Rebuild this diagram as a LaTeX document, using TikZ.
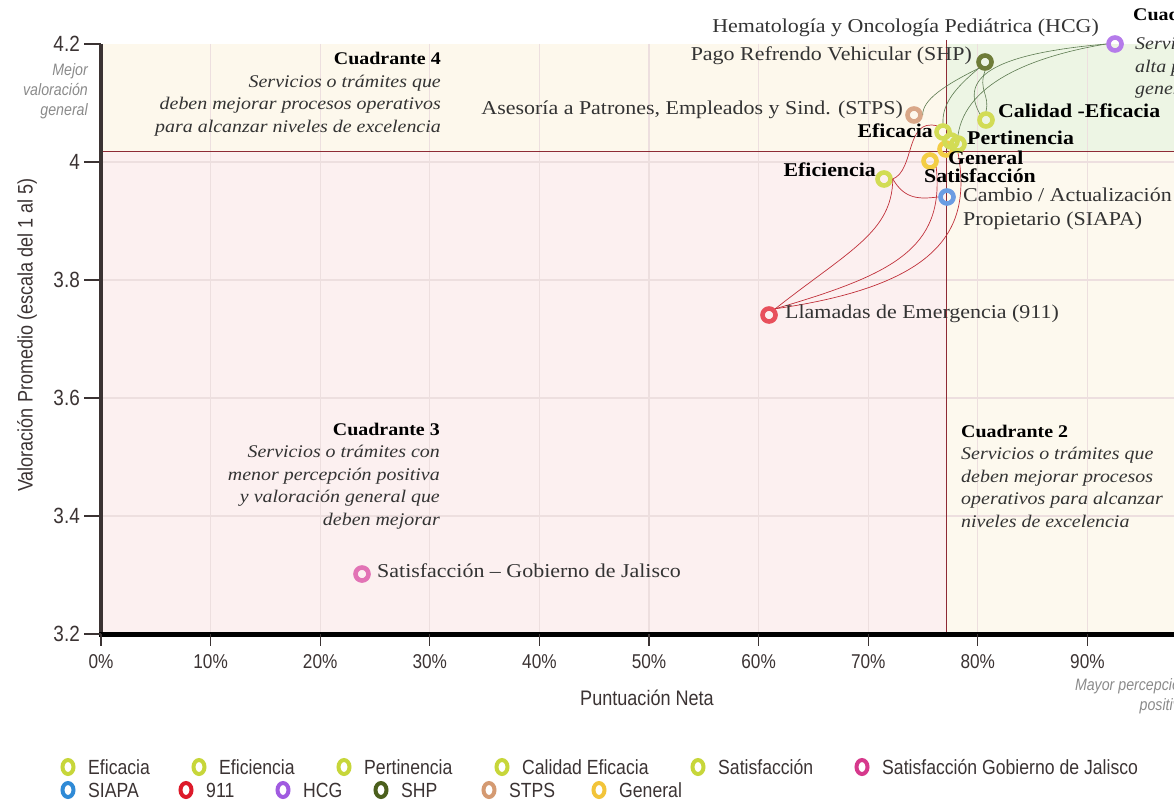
\documentclass[tikz,border=0pt]{standalone}
\usepackage{fontspec}
\usetikzlibrary{positioning}
\usepackage{xcolor}
\newfontfamily\labfont[FakeStretch=1.12]{Liberation Serif}
\newfontfamily\axfont[FakeStretch=0.86]{Liberation Sans}

\definecolor{bgfour}{HTML}{FDF8EC}
\definecolor{bgone}{HTML}{EDF5E4}
\definecolor{bgthree}{HTML}{FCF0F0}
\definecolor{bgtwo}{HTML}{FDF9EE}
\definecolor{gridc}{HTML}{EDDFDF}
\definecolor{quadc}{HTML}{8E2A35}
\definecolor{axisc}{HTML}{3B3333}
\definecolor{labc}{HTML}{333333}
\definecolor{hintc}{HTML}{8A8A8A}
\definecolor{linkred}{HTML}{C0303A}
\definecolor{linkgreen}{HTML}{5C7A50}
% rings on the chart
\definecolor{cYg}{HTML}{D2DC55}
\definecolor{cGold}{HTML}{F3CD45}
\definecolor{cSiapa}{HTML}{6A9CE2}
\definecolor{cRed}{HTML}{E8505C}
\definecolor{cHcg}{HTML}{B57BEA}
\definecolor{cShp}{HTML}{6E7C38}
\definecolor{cStps}{HTML}{D9A788}
\definecolor{cPink}{HTML}{E273B5}
% rings in the legend
\definecolor{lYg}{HTML}{C7D63A}
\definecolor{lPink}{HTML}{D6398C}
\definecolor{lBlue}{HTML}{2F8AD6}
\definecolor{lRed}{HTML}{DD1A2A}
\definecolor{lPurple}{HTML}{A05BE0}
\definecolor{lOlive}{HTML}{4B5F1C}
\definecolor{lTan}{HTML}{D49A72}
\definecolor{lGold}{HTML}{F2C43A}

\tikzset{
  ring/.style={circle, draw, line width=4.6pt, minimum size=13pt, inner sep=0pt},
  legring/.style={ellipse, draw, line width=4pt, minimum width=11pt, minimum height=14pt, inner sep=0pt},
  gridline/.style={draw=gridc, line width=1.3pt},
  quadline/.style={draw=quadc, line width=0.9pt},
  redlink/.style={draw=linkred, line width=0.7pt},
  greenlink/.style={draw=linkgreen, line width=0.6pt},
  ptlabel/.style={inner sep=0pt, text=labc, font=\labfont\fontsize{19.6}{24}\selectfont},
  ptbold/.style={inner sep=0pt, text=black, font=\labfont\bfseries\fontsize{19.5}{22}\selectfont},
  quadtext/.style={inner sep=0pt, text=labc, font=\labfont\itshape\fontsize{17.8}{22.5}\selectfont},
  ytick/.style={inner sep=0pt, anchor=east, text=axisc, font=\axfont\fontsize{22}{24}\selectfont},
  xtick/.style={inner sep=0pt, text=axisc, font=\axfont\fontsize{20}{22}\selectfont},
  axtitle/.style={inner sep=0pt, text=axisc, font=\axfont\fontsize{21}{24}\selectfont},
  hint/.style={inner sep=0pt, text=hintc, font=\axfont\itshape\fontsize{16.5}{20}\selectfont},
  legtext/.style={inner sep=0pt, anchor=west, text=axisc, font=\axfont\fontsize{20.5}{22}\selectfont}
}
\usetikzlibrary{shapes.geometric}

\begin{document}
\begin{tikzpicture}[x=1pt, y=-1pt]
\useasboundingbox (0,0) rectangle (1174,800);
\clip (0,0) rectangle (1174,800);

% quadrant backgrounds
\fill[bgfour] (101,44) rectangle (946,151);
\fill[bgone] (946,44) rectangle (1174,151);
\fill[bgthree] (101,151) rectangle (946,634);
\fill[bgtwo] (946,151) rectangle (1174,634);

% grid
\foreach \i in {1,...,9}
  \draw[gridline] ({101+109.6*\i},44) -- ({101+109.6*\i},634);
\foreach \j in {1,...,4}
  \draw[gridline] (101,{634-118*\j}) -- (1174,{634-118*\j});

% quadrant split
\draw[quadline] (946,40) -- (946,634);
\draw[quadline] (101,151) -- (1174,151);

% axes
\draw[draw=axisc, line width=4pt] (101,44) -- (101,636);
\draw[line width=5pt] (99,634) -- (1174,634);
\foreach \j/\t in {0/3.2,1/3.4,2/3.6,3/3.8,4/4,5/4.2} {
  \draw[draw=axisc, line width=1.4pt] (84,{634-118*\j}) -- (101,{634-118*\j});
  \node[ytick] (yt\j) at (80,{634-118*\j}) {\t};
}
\foreach \i in {0,...,9} {
  \draw[draw=axisc, line width=1.2pt] ({101+109.6*\i},634) -- ({101+109.6*\i},646);
  \pgfmathtruncatemacro\pc{10*\i}
  \node[xtick] (xt\i) at ({101+109.6*\i},662) {\pc\%};
}
\node[axtitle] (xtitle) at (647,698) {Puntuación Neta};
\node[axtitle, rotate=90] (ytitle) at (27,335) {Valoración Promedio (escala del 1 al 5)};
\node[hint, align=right, anchor=east] (mejor) at (88,91) {Mejor\\valoración\\general};
\node[hint, align=right, anchor=east] (mayor) at (1188,696) {Mayor percepción\\positiva};

% quadrant notes
\node[quadtext, align=right, anchor=east] (qfour) at (441,94)
  {\textbf{\upshape\color{black}Cuadrante 4}\\Servicios o trámites que\\deben mejorar procesos operativos\\para alcanzar niveles de excelencia};
\node[quadtext, align=right, anchor=east] (qthree) at (440,476)
  {\textbf{\upshape\color{black}Cuadrante 3}\\Servicios o trámites con\\menor percepción positiva\\y valoración general que\\deben mejorar};
\node[quadtext, align=left, anchor=west] (qtwo) at (961,476)
  {\textbf{\upshape\color{black}Cuadrante 2}\\Servicios o trámites que\\deben mejorar procesos\\operativos para alcanzar\\niveles de excelencia};
\node[quadtext, anchor=west, text=black] (qonetitle) at (1133,14) {\textbf{\upshape Cuadrante 1}};
\node[quadtext, align=left, anchor=west] (qone) at (1135,68)
  {Servicios o trámites con\\alta percepción positiva\\general};

% data points
\node[ring, draw=cRed] (emerg) at (769,315) {};
\node[ring, draw=cPink] (gobjal) at (362,574) {};
\node[ring, draw=cSiapa] (siapa) at (947,197) {};
\node[ring, draw=cYg] (eficiencia) at (884,179) {};
\node[ring, draw=cGold] (general) at (930,161) {};
\node[ring, draw=cGold] (genextra) at (946,149) {};
\node[ring, draw=cYg] (satisf) at (951,141) {};
\node[ring, draw=cYg] (pertinencia) at (958,144) {};
\node[ring, draw=cYg] (eficacia) at (943,132) {};
\node[ring, draw=cYg] (calidad) at (986,120) {};
\node[ring, draw=cStps] (stps) at (914,115) {};
\node[ring, draw=cShp] (shp) at (985,62) {};
\node[ring, draw=cHcg] (hcg) at (1115,44) {};

% connectors
\draw[redlink] (emerg.north east) .. controls (850,250) and (892,232) .. (eficiencia.east);
\draw[redlink] (emerg.north east) .. controls (890,275) and (945,250) .. (general.south east);
\draw[redlink] (emerg.north east) .. controls (940,285) and (972,230) .. (pertinencia.south);
\draw[redlink] (eficiencia.east) .. controls (905,200) and (920,199) .. (siapa.west);
\draw[redlink] (eficiencia.east) .. controls (915,170) and (905,118) .. (eficacia.north west);
\draw[greenlink] (hcg.west) .. controls (1040,55) and (966,80) .. (pertinencia.north);
\draw[greenlink] (hcg.west) .. controls (1015,52) and (955,70) .. (calidad.north west);
\draw[greenlink] (shp.south west) .. controls (955,88) and (942,104) .. (eficacia.north);
\draw[greenlink] (shp.south) .. controls (978,90) and (990,95) .. (calidad.north);
\draw[greenlink] (shp.south west) .. controls (945,85) and (922,100) .. (stps.east);

% point labels
\node[ptlabel, anchor=mid east] (hcglab) at (1099,30) {Hematología y Oncología Pediátrica (HCG)};
\node[ptlabel, anchor=mid east] (shplab) at (972,58) {Pago Refrendo Vehicular (SHP)};
\node[ptlabel, anchor=mid east] (stpslab) at (903,112) {Asesoría a Patrones, Empleados y Sind. (STPS)};
\node[ptbold, anchor=mid west] (calidadlab) at (998,115) {Calidad -Eficacia};
\node[ptbold, anchor=mid east] (eficacialab) at (933,135) {Eficacia};
\node[ptbold, anchor=mid west] (pertlab) at (967,142) {Pertinencia};
\node[ptbold, anchor=mid west] (genlab) at (948,162) {General};
\node[ptbold, anchor=mid west] (satlab) at (924,180) {Satisfacción};
\node[ptbold, anchor=mid east] (eficlab) at (876,174) {Eficiencia};
\node[ptlabel, anchor=north west, align=left] (siapalab) at (963,188) {Cambio / Actualización\\Propietario (SIAPA)};
\node[ptlabel, anchor=mid west] (emerglab) at (785,316) {Llamadas de Emergencia (911)};
\node[ptlabel, anchor=mid west] (gobjallab) at (377,575) {Satisfacción – Gobierno de Jalisco};

% legend
\foreach \lx/\ly/\lc/\lt [count=\k] in {
    68/767/lYg/Eficacia, 199/767/lYg/Eficiencia, 344/767/lYg/Pertinencia,
    502/767/lYg/Calidad Eficacia, 698/767/lYg/Satisfacción,
    862/767/lPink/Satisfacción Gobierno de Jalisco,
    68/790/lBlue/SIAPA, 186/790/lRed/911, 283/790/lPurple/HCG,
    381/790/lOlive/SHP, 489/790/lTan/STPS, 599/790/lGold/General} {
  \node[legring, draw=\lc] (leg\k) at (\lx,\ly) {};
  \node[legtext] (legt\k) at (\lx+20,\ly) {\lt};
}
\end{tikzpicture}
\end{document}
